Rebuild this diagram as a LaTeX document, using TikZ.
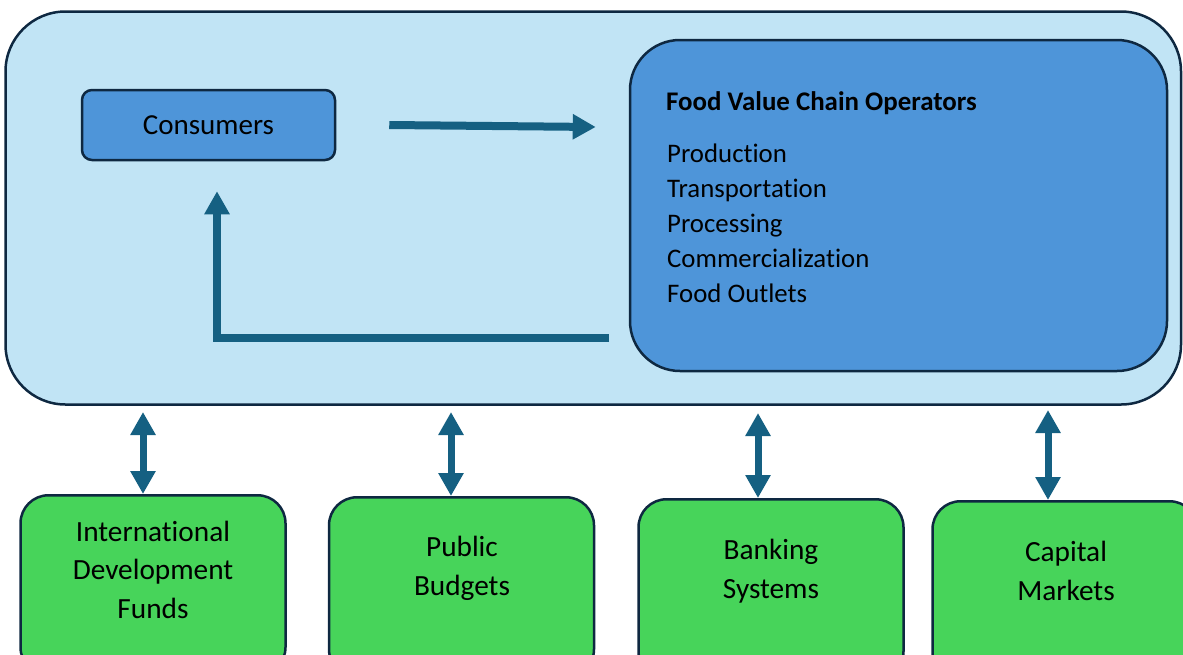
\documentclass[tikz,border=0pt]{standalone}
\usepackage{fontspec}
\setmainfont{Carlito}[Ligatures=NoCommon]
\usetikzlibrary{arrows.meta}

\definecolor{paleblue}{RGB}{193,228,245}
\definecolor{midblue}{RGB}{78,149,217}
\definecolor{edgenavy}{RGB}{14,40,65}
\definecolor{flowblue}{RGB}{21,96,130}
\definecolor{fundgreen}{RGB}{71,212,90}

\tikzset{
  fattip/.tip={Triangle[length=23pt,width=24pt]},
  box/.style={draw=edgenavy, line width=2.5pt, rectangle, inner sep=0pt},
  outerbox/.style={box, fill=paleblue, rounded corners=60pt},
  opbox/.style={box, fill=midblue, rounded corners=50pt},
  consbox/.style={box, fill=midblue, rounded corners=10pt,
    font=\fontsize{29}{34}\selectfont},
  fundbox/.style={box, fill=fundgreen, rounded corners=28pt,
    minimum width=265pt, minimum height=180pt, anchor=north},
  fundtext/.style={inner sep=0pt, align=center, anchor=base,
    font=\fontsize{29.3}{38.5}\selectfont},
  flow/.style={draw=flowblue, line width=8pt, -{fattip}},
  bidir/.style={draw=flowblue, line width=7pt, {fattip}-{fattip}},
}

\begin{document}
\begin{tikzpicture}[x=1pt,y=-1pt]
\useasboundingbox (0,0) rectangle (1183,654);
\clip (0,0) rectangle (1183,654);

% the operating environment
\node[outerbox, minimum width=1175.5pt, minimum height=393pt] (env) at (593.25,208) {};

% value chain operators (multi-line text is anchored on its last baseline)
\node[opbox, minimum width=537pt, minimum height=331pt] (ops) at (898.5,205.5) {};
\node[anchor=base west, inner sep=0pt, font=\bfseries\fontsize{26.9}{30}\selectfont]
  (opstitle) at (666,110) {Food Value Chain Operators};
\node[anchor=base west, inner sep=0pt, align=left, font=\fontsize{26.8}{35}\selectfont]
  (opslist) at (667,302) {Production\\Transportation\\Processing\\Commercialization\\Food Outlets};

% consumers
\node[consbox, minimum width=253pt, minimum height=70pt] (cons) at (208.5,125) {Consumers};

% flows between consumers and operators
\coordinate (demand) at ([xshift=53pt]cons.east);
\coordinate (demandtip) at ([xshift=-33pt,yshift=-2pt]ops.west |- cons.east);
\draw[flow] (demand) -- (demandtip);

\coordinate (supply) at (609,338);
\coordinate (supplytip) at ([xshift=8.5pt,yshift=-30pt]cons.south);
\draw[flow] (supply) -| (supplytip);

% sources of finance
\node[fundbox] (intl) at (153,494) {};
\node[fundbox] (public) at (461.5,496) {};
\node[fundbox] (bank) at (771,498) {};
\node[fundbox] (capital) at (1065,500) {};

\node[fundtext] (intltext) at (153,618) {International\\Development\\Funds};
\node[fundtext] (publictext) at (462,595) {Public\\Budgets};
\node[fundtext] (banktext) at (771,598) {Banking\\Systems};
\node[fundtext] (capitaltext) at (1066,600) {Capital\\Markets};

% two-way links with the environment
\coordinate (l1) at (143,412);
\coordinate (l2) at (451,412);
\coordinate (l3) at (758,413);
\coordinate (l4) at (1048,410);
\draw[bidir] (l1) -- (l1 |- intl.north);
\draw[bidir] (l2) -- (l2 |- public.north);
\draw[bidir] (l3) -- (l3 |- bank.north);
\draw[bidir] (l4) -- (l4 |- capital.north);
\end{tikzpicture}
\end{document}
